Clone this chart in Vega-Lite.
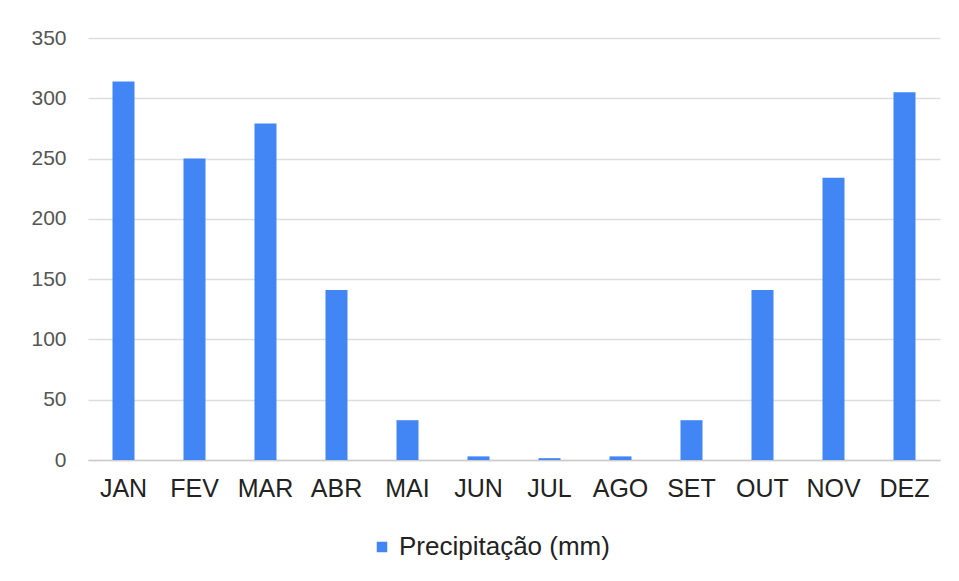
{
  "$schema": "https://vega.github.io/schema/vega-lite/v6.json",
  "autosize": {"type": "none"},
  "width": 852,
  "height": 422,
  "padding": {"left": 88, "top": 38, "right": 19, "bottom": 121},
  "background": "white",
  "config": {"view": {"stroke": null}, "font": "Liberation Sans"},
  "data": {"values": [
    {"mes": "JAN", "serie": "Precipitação (mm)", "valor": 314},
    {"mes": "FEV", "serie": "Precipitação (mm)", "valor": 250},
    {"mes": "MAR", "serie": "Precipitação (mm)", "valor": 279},
    {"mes": "ABR", "serie": "Precipitação (mm)", "valor": 141},
    {"mes": "MAI", "serie": "Precipitação (mm)", "valor": 33},
    {"mes": "JUN", "serie": "Precipitação (mm)", "valor": 3},
    {"mes": "JUL", "serie": "Precipitação (mm)", "valor": 1.5},
    {"mes": "AGO", "serie": "Precipitação (mm)", "valor": 3},
    {"mes": "SET", "serie": "Precipitação (mm)", "valor": 33},
    {"mes": "OUT", "serie": "Precipitação (mm)", "valor": 141},
    {"mes": "NOV", "serie": "Precipitação (mm)", "valor": 234},
    {"mes": "DEZ", "serie": "Precipitação (mm)", "valor": 305}
  ]},
  "mark": {"type": "bar"},
  "encoding": {
    "x": {
      "field": "mes", "type": "nominal", "sort": null,
      "scale": {"paddingInner": 0.69, "paddingOuter": 0.345},
      "axis": {"title": null, "labelAngle": 0, "labelFontSize": 25, "labelColor": "#222222", "labelPadding": 16, "ticks": false, "domainColor": "#cccccc", "domainWidth": 1.5, "grid": false}
    },
    "y": {
      "field": "valor", "type": "quantitative",
      "scale": {"domain": [0, 350], "nice": false},
      "axis": {"title": null, "values": [0, 50, 100, 150, 200, 250, 300, 350], "labelFontSize": 21, "labelColor": "#555555", "labelPadding": 22, "ticks": false, "domain": false, "gridColor": "#dddddd", "gridWidth": 1.5}
    },
    "color": {
      "field": "serie", "type": "nominal",
      "scale": {"range": ["#4285F4"]},
      "legend": {"title": null, "orient": "none", "legendX": 281, "legendY": 496, "symbolType": "square", "symbolSize": 110, "labelFontSize": 26, "labelLimit": 0, "labelColor": "#222222", "symbolStrokeWidth": 0}
    }
  }
}
